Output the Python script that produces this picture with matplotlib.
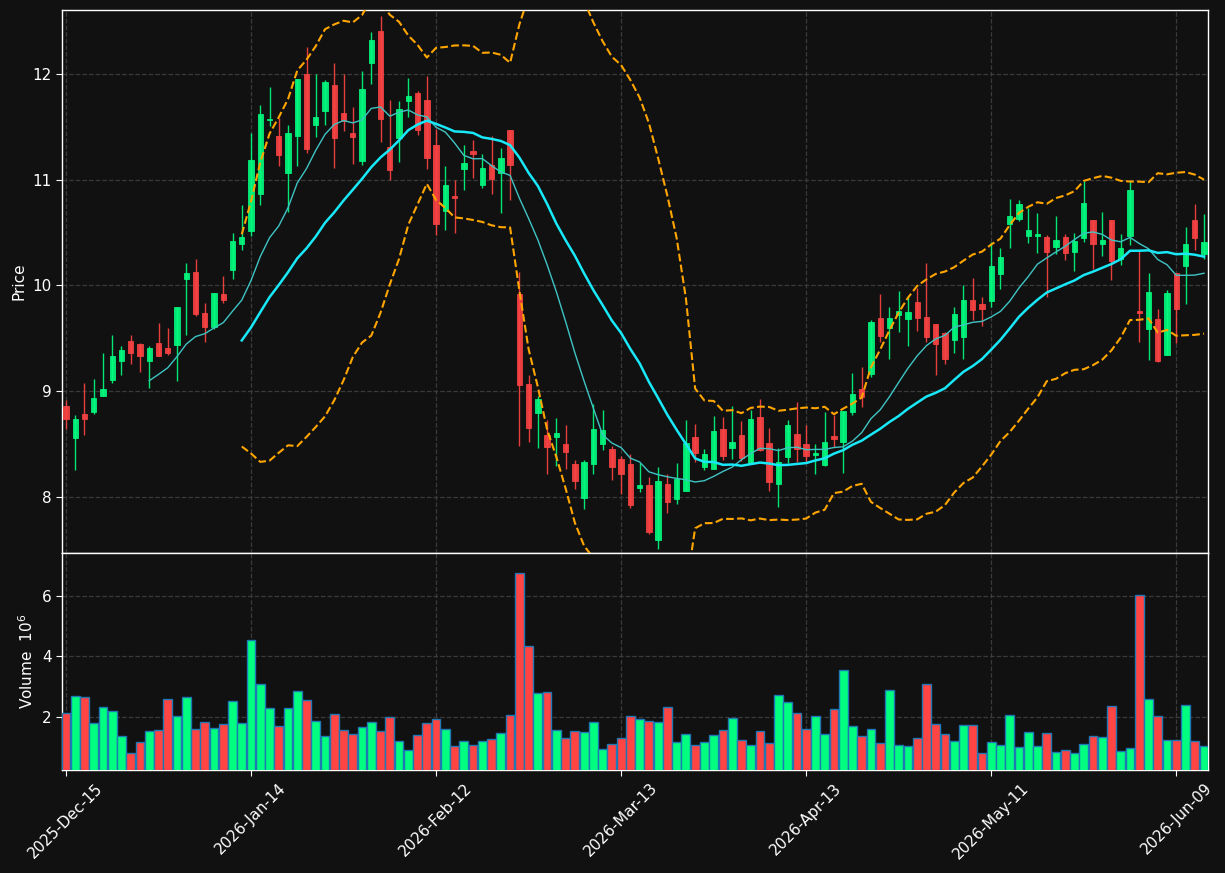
import numpy as np
import pandas as pd
import matplotlib
matplotlib.use("Agg")
import matplotlib.pyplot as plt

# ---------------- data ----------------
start_date = "2025-12-15"
holidays = ["2025-12-25", "2026-01-01", "2026-01-19", "2026-02-16", "2026-04-03", "2026-05-25"]

opens = [8.859, 8.559, 8.783, 8.805, 8.957, 9.108, 9.288, 9.474, 9.445, 9.288,
         9.455, 9.407, 9.439, 10.063, 10.126, 9.738, 9.609, 9.918, 10.148, 10.394,
         10.512, 10.862, 11.565, 11.417, 11.061, 11.417, 12.003, 11.515, 11.647, 11.899,
         11.634, 11.445, 11.174, 12.101, 12.410, 11.313, 11.392, 11.742, 11.823, 11.757,
         11.332, 10.704, 10.842, 11.101, 11.268, 10.950, 11.142, 11.063, 11.467, 9.916,
         9.065, 8.794, 8.582, 8.570, 8.497, 8.308, 7.990, 8.311, 8.504, 8.450,
         8.355, 8.308, 8.089, 8.114, 7.594, 8.124, 7.982, 8.061, 8.568, 8.284,
         8.266, 8.644, 8.464, 8.587, 8.322, 8.754, 8.511, 8.127, 8.382, 8.597,
         8.502, 8.401, 8.303, 8.575, 8.522, 8.805, 9.020, 9.162, 9.691, 9.600,
         9.719, 9.685, 9.842, 9.701, 9.634, 9.552, 9.486, 9.515, 9.861, 9.823,
         9.855, 10.110, 10.583, 10.625, 10.464, 10.467, 10.455, 10.360, 10.455, 10.316,
         10.448, 10.615, 10.392, 10.615, 10.250, 10.464, 9.755, 9.588, 9.679, 9.342,
         10.114, 10.184, 10.615, 10.297]

closes = [8.739, 8.736, 8.739, 8.935, 9.020, 9.332, 9.388, 9.363, 9.335, 9.407,
          9.335, 9.363, 9.795, 10.117, 9.729, 9.609, 9.928, 9.864, 10.419, 10.457,
          11.190, 11.625, 11.575, 11.237, 11.445, 11.956, 11.288, 11.593, 11.928, 11.392,
          11.559, 11.401, 11.861, 12.325, 11.571, 11.089, 11.672, 11.795, 11.467, 11.203,
          10.578, 10.946, 10.828, 11.154, 11.243, 11.113, 11.003, 11.202, 11.139, 9.058,
          8.652, 8.923, 8.472, 8.601, 8.425, 8.150, 8.327, 8.639, 8.630, 8.283,
          8.217, 7.923, 8.114, 7.670, 8.152, 7.953, 8.174, 8.511, 8.417, 8.407,
          8.625, 8.388, 8.521, 8.370, 8.738, 8.445, 8.143, 8.332, 8.682, 8.458,
          8.392, 8.417, 8.521, 8.547, 8.812, 8.972, 8.947, 9.653, 9.524, 9.691,
          9.757, 9.748, 9.694, 9.515, 9.448, 9.303, 9.729, 9.861, 9.770, 9.779,
          10.183, 10.268, 10.656, 10.767, 10.521, 10.483, 10.316, 10.426, 10.307, 10.417,
          10.776, 10.392, 10.426, 10.231, 10.357, 10.899, 9.736, 9.935, 9.285, 9.925,
          9.777, 10.388, 10.448, 10.407]

highs = [8.916, 8.771, 9.073, 9.111, 9.366, 9.527, 9.423, 9.530, 9.452, 9.423,
         9.641, 9.597, 9.795, 10.208, 10.246, 9.830, 9.928, 10.085, 10.492, 10.757,
         11.439, 11.707, 11.877, 11.584, 11.518, 11.956, 12.258, 12.000, 11.943, 12.104,
         12.000, 11.688, 12.028, 12.397, 12.545, 11.754, 11.742, 11.962, 11.842, 11.981,
         11.480, 11.126, 10.994, 11.331, 11.378, 11.246, 11.416, 11.303, 11.467, 10.130,
         9.156, 8.957, 8.724, 8.749, 8.677, 8.346, 8.352, 8.882, 8.819, 8.485,
         8.387, 8.403, 8.325, 8.187, 8.281, 8.215, 8.319, 8.729, 8.688, 8.455,
         8.764, 8.754, 8.858, 8.716, 8.820, 8.924, 8.650, 8.461, 8.729, 8.896,
         8.685, 8.499, 8.801, 8.777, 8.812, 9.168, 9.225, 9.669, 9.915, 9.798,
         9.943, 9.893, 9.975, 10.208, 9.634, 9.562, 9.795, 10.000, 10.066, 9.890,
         10.407, 10.350, 10.813, 10.805, 10.735, 10.682, 10.474, 10.653, 10.489, 10.499,
         10.984, 10.622, 10.694, 10.615, 10.489, 10.984, 10.332, 10.121, 9.780, 9.960,
         10.114, 10.556, 10.773, 10.678]

lows = [8.638, 8.251, 8.582, 8.780, 8.957, 9.073, 9.149, 9.262, 9.184, 9.026,
        9.335, 9.338, 9.098, 9.527, 9.710, 9.470, 9.587, 9.830, 10.063, 10.340,
        10.470, 10.761, 11.511, 11.127, 10.692, 11.130, 11.253, 11.401, 11.518, 11.114,
        11.464, 11.149, 11.139, 11.909, 11.354, 10.998, 11.171, 11.597, 11.426, 11.100,
        10.478, 10.524, 10.499, 10.905, 11.019, 10.918, 10.868, 10.688, 10.811, 8.481,
        8.522, 8.466, 8.220, 8.292, 8.260, 8.075, 7.889, 8.220, 8.440, 8.163,
        8.030, 7.898, 8.051, 7.651, 7.509, 7.846, 7.931, 8.061, 8.335, 8.259,
        8.266, 8.351, 8.363, 8.341, 8.322, 8.433, 8.061, 7.903, 8.325, 8.335,
        8.335, 8.215, 8.297, 8.474, 8.222, 8.771, 8.853, 9.130, 9.470, 9.300,
        9.556, 9.423, 9.565, 9.461, 9.149, 9.253, 9.366, 9.300, 9.678, 9.615,
        9.795, 9.962, 10.359, 10.606, 10.401, 10.307, 9.890, 10.300, 10.243, 10.139,
        10.407, 10.155, 10.278, 10.054, 10.196, 10.385, 9.465, 9.298, 9.276, 9.342,
        9.455, 9.827, 10.332, 10.250]

volumes_m = [2.12, 2.68, 2.65, 1.79, 2.32, 2.19, 1.36, 0.80, 1.16, 1.53,
             1.56, 2.58, 2.02, 2.65, 1.59, 1.82, 1.63, 1.76, 2.52, 1.79,
             4.53, 3.08, 2.29, 1.69, 2.29, 2.85, 2.55, 1.86, 1.36, 2.09,
             1.56, 1.43, 1.66, 1.82, 1.53, 1.99, 1.20, 0.90, 1.39, 1.79,
             1.92, 1.59, 1.03, 1.20, 1.06, 1.20, 1.26, 1.46, 2.06, 6.75,
             4.34, 2.78, 2.82, 1.56, 1.29, 1.53, 1.49, 1.82, 0.93, 1.10,
             1.29, 2.02, 1.92, 1.86, 1.82, 2.32, 1.16, 1.43, 1.06, 1.16,
             1.39, 1.56, 1.96, 1.23, 1.06, 1.53, 1.13, 2.72, 2.48, 2.12,
             1.59, 2.02, 1.43, 2.25, 3.54, 1.69, 1.36, 1.59, 1.13, 2.88,
             1.06, 1.03, 1.29, 3.08, 1.76, 1.43, 1.20, 1.72, 1.72, 0.80,
             1.16, 1.06, 2.06, 1.00, 1.49, 1.03, 1.46, 0.83, 0.90, 0.80,
             1.10, 1.36, 1.33, 2.35, 0.87, 0.96, 6.02, 2.58, 2.02, 1.23,
             1.23, 2.39, 1.20, 1.03]

mav_short = 10
mav_long = 20
bb_window = 20
bb_k = 2
tick_step = 20

# ---------------- derived ----------------
dates = pd.bdate_range(start_date, periods=len(opens), freq="C", holidays=holidays)
o = np.array(opens); c = np.array(closes); h = np.array(highs); l = np.array(lows)
v = np.array(volumes_m)
x = np.arange(len(o))
cs = pd.Series(c)
ma_s = cs.rolling(mav_short).mean()
ma_l = cs.rolling(mav_long).mean()
bb_mid = cs.rolling(bb_window).mean()
bb_std = cs.rolling(bb_window).std(ddof=0)
bb_up = bb_mid + bb_k * bb_std
bb_dn = bb_mid - bb_k * bb_std

up = c >= o
UP = "#00ff80"
DN = "#ff4444"
BG = "#111111"
GRID = "#3a3a3a"

# ---------------- figure ----------------
W, H = 1225, 873
fig = plt.figure(figsize=(W / 100, H / 100), dpi=100, facecolor=BG)
L, R = 62, 1208
ax = fig.add_axes([L / W, 1 - 553 / H, (R - L) / W, (553 - 10) / H])
axv = fig.add_axes([L / W, 1 - 770 / H, (R - L) / W, (770 - 553) / H], sharex=ax)

for a in (ax, axv):
    a.set_facecolor(BG)
    for s in a.spines.values():
        s.set_color("white")
        s.set_linewidth(1.0)
    a.tick_params(colors="white", labelsize=11, length=4)
    a.grid(True, color=GRID, linestyle="--", linewidth=0.9)
    a.set_axisbelow(True)

# candles
ccol = [UP if u else DN for u in up]
ax.vlines(x, l, h, colors=ccol, linewidth=1.0, alpha=0.9, zorder=2)
body_bottom = np.minimum(o, c)
body_h = np.abs(c - o)
ax.bar(x, body_h, bottom=body_bottom, width=0.58, color=ccol, edgecolor=ccol,
       linewidth=0.6, alpha=0.9, zorder=3)

# moving averages and bands
ax.plot(x, ma_s, color="#3fc4c4", linewidth=1.0, zorder=4)
ax.plot(x, ma_l, color="#18e8f8", linewidth=1.8, zorder=4)
ax.plot(x, bb_up, color="#ffa500", linestyle="--", linewidth=1.5, zorder=4)
ax.plot(x, bb_dn, color="#ffa500", linestyle="--", linewidth=1.5, zorder=4)

ax.set_ylim(7.47, 12.605)
ax.set_yticks([8, 9, 10, 11, 12])
ax.set_ylabel("Price", color="white", fontsize=11)
plt.setp(ax.get_xticklabels(), visible=False)

# volume
axv.bar(x, v, width=0.95, color=ccol, edgecolor="#1f77b4", linewidth=1.0, zorder=3)
axv.set_ylim(0.3 * v.min(), 1.1 * v.max())
axv.set_yticks([2, 4, 6])
axv.set_ylabel("Volume  $10^{6}$", color="white", fontsize=11)

ticks = list(range(0, len(x), tick_step))
axv.set_xticks(ticks)
axv.set_xticklabels([dates[i].strftime("%Y-%b-%d") for i in ticks], rotation=45,
                    ha="center", color="white", fontsize=11)
axv.set_xlim(-0.43, len(x) - 1 + 0.43)

fig.savefig("out.png", dpi=100, facecolor=BG)
